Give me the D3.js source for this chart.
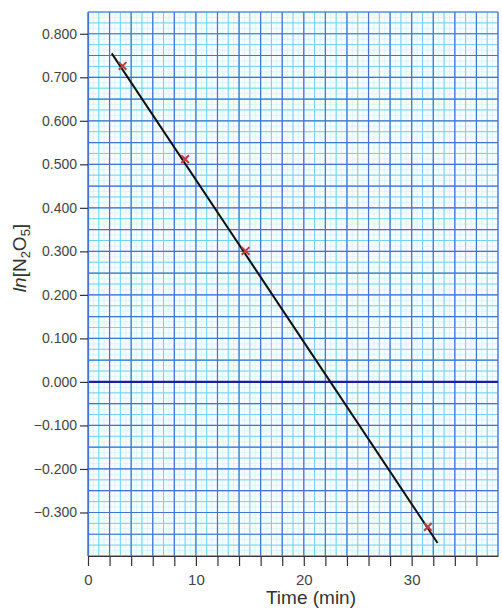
<!DOCTYPE html>
<html>
<head>
<meta charset="utf-8">
<script src="https://cdn.jsdelivr.net/npm/d3@7"></script>
<style>
  body { margin: 0; background: #fff; }
  svg text { font-family: Arial, "Liberation Sans", sans-serif; }
</style>
</head>
<body>
<svg id="chart" width="502" height="608"></svg>
<script>
// measured points (time in min, ln[N2O5])
var times = [3.2, 9.0, 14.6, 31.5];
var lnValues = [0.726, 0.512, 0.301, -0.333];
// ends of the fitted straight line
var fitTimes = [2.2, 32.4];
var fitValues = [0.755, -0.370];

var xTicks = [0, 2, 4, 6, 8, 10, 12, 14, 16, 18, 20, 22, 24, 26, 28, 30, 32, 34, 36];
var xTickLabels = [0, 10, 20, 30];
var yTicks = [-0.3, -0.2, -0.1, 0, 0.1, 0.2, 0.3, 0.4, 0.5, 0.6, 0.7, 0.8];

var svg = d3.select("#chart");
// plot box (note: "top" is taken by window.top, so use other names)
var plotL = 88, plotR = 498, plotT = 12, plotB = 556;

var x = d3.scaleLinear().domain([0, 38]).range([plotL, plotR]);
var y = d3.scaleLinear().domain([-0.4, 0.85]).range([plotB, plotT]);

// graph paper background
svg.append("rect")
  .attr("x", plotL).attr("y", plotT)
  .attr("width", plotR - plotL).attr("height", plotB - plotT)
  .attr("fill", "#f7fdfe");

var grid = svg.append("g").attr("class", "grid");

// quarter lines, half lines, major lines
function gridLines(stepX, stepY, color, width) {
  var xs = d3.range(0, 38 + 1e-6, stepX);
  var ys = d3.range(-0.4, 0.85 + 1e-6, stepY);
  grid.append("g").selectAll("line").data(xs).enter().append("line")
    .attr("x1", d => x(d)).attr("x2", d => x(d))
    .attr("y1", plotT).attr("y2", plotB)
    .attr("stroke", color).attr("stroke-width", width);
  grid.append("g").selectAll("line").data(ys).enter().append("line")
    .attr("y1", d => y(d)).attr("y2", d => y(d))
    .attr("x1", plotL).attr("x2", plotR)
    .attr("stroke", color).attr("stroke-width", width);
}
gridLines(0.5, 0.0125, "#d2f0f8", 0.7);
gridLines(1, 0.025, "#74d2ee", 1);
gridLines(2, 0.05, "#4672d6", 1.2);

// zero line
svg.append("line")
  .attr("x1", plotL).attr("x2", plotR)
  .attr("y1", y(0)).attr("y2", y(0))
  .attr("stroke", "#1c1caa").attr("stroke-width", 2.2);

// y axis
var yAxis = d3.axisLeft(y).tickValues(yTicks).tickSize(8).tickSizeOuter(0).tickPadding(3)
  .tickFormat(d3.format(".3f"));
var gy = svg.append("g").attr("transform", "translate(" + plotL + ",0)").call(yAxis);
gy.select(".domain").attr("stroke", "#4672d6").attr("stroke-width", 1.2);
gy.selectAll(".tick line").attr("stroke", "#333").attr("stroke-width", 1.2);
gy.selectAll(".tick text").attr("fill", "#444").style("font-size", "14px");

// x axis
var xAxis = d3.axisBottom(x).tickValues(xTicks).tickSize(10).tickSizeOuter(0)
  .tickFormat(d => xTickLabels.indexOf(d) >= 0 ? d : "");
var gx = svg.append("g").attr("transform", "translate(0," + plotB + ")").call(xAxis);
gx.select(".domain").attr("stroke", "#333").attr("stroke-width", 1.2);
gx.selectAll(".tick line").attr("stroke", "#333").attr("stroke-width", 1.2);
gx.selectAll(".tick text").attr("fill", "#444").style("font-size", "15px").attr("dy", "1.05em");

// fitted line
var fit = fitTimes.map((t, i) => [t, fitValues[i]]);
svg.append("path")
  .datum(fit)
  .attr("d", d3.line().x(d => x(d[0])).y(d => y(d[1])))
  .attr("fill", "none").attr("stroke", "#111").attr("stroke-width", 2);

// data markers
var pts = times.map((t, i) => [t, lnValues[i]]);
svg.append("g").selectAll("path").data(pts).enter().append("path")
  .attr("transform", d => "translate(" + x(d[0]) + "," + y(d[1]) + ")")
  .attr("d", d3.symbol().type(d3.symbolX).size(40))
  .attr("fill", "none").attr("stroke", "#c03c3c").attr("stroke-width", 2);

// axis titles
svg.append("text")
  .attr("x", 311).attr("y", 604)
  .attr("text-anchor", "middle")
  .attr("fill", "#333")
  .style("font-size", "19px")
  .text("Time (min)");

var yl = svg.append("text")
  .attr("transform", "translate(26,258) rotate(-90)")
  .attr("text-anchor", "middle")
  .attr("fill", "#333")
  .style("font-size", "19px");
yl.append("tspan").style("font-style", "italic").text("ln");
yl.append("tspan").text("[N");
yl.append("tspan").attr("dy", 4).style("font-size", "13px").text("2");
yl.append("tspan").attr("dy", -4).text("O");
yl.append("tspan").attr("dy", 4).style("font-size", "13px").text("5");
yl.append("tspan").attr("dy", -4).text("]");
</script>
</body>
</html>
